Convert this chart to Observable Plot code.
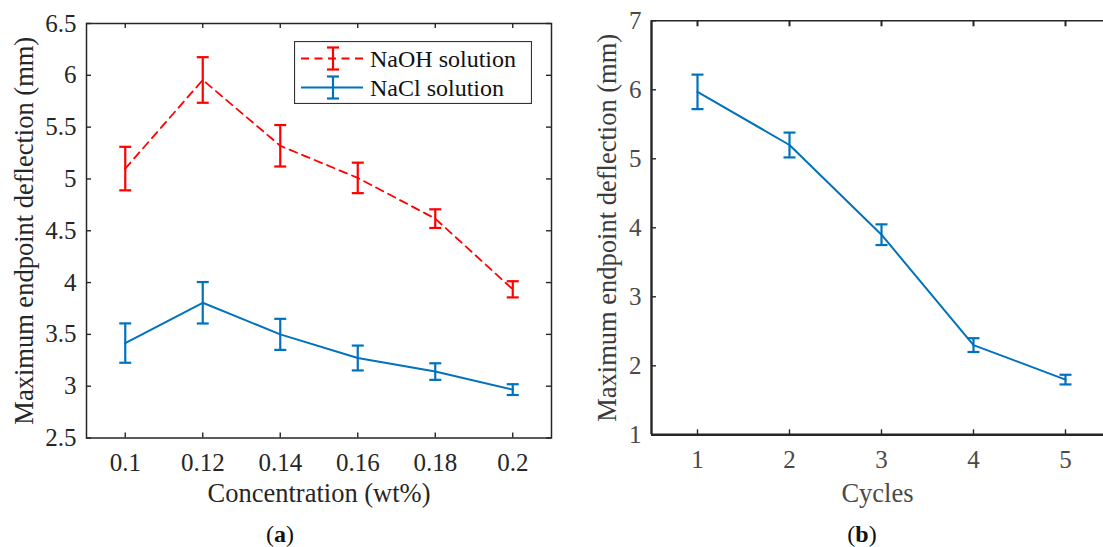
<!DOCTYPE html>
<html>
<head>
<meta charset="utf-8">
<script src="https://cdn.jsdelivr.net/npm/d3@7"></script>
<script src="https://cdn.jsdelivr.net/npm/@observablehq/plot@0.6"></script>
<style>
  html, body { margin: 0; padding: 0; background: #fff; width: 1103px; height: 547px; overflow: hidden; }
  .abs { position: absolute; }
  .cap { font-family: "Liberation Serif", serif; font-size: 24px; color: #111; text-align: center; line-height: 26px; }
</style>
</head>
<body>
<div id="panelA" class="abs" style="left:0;top:0;"></div>
<div id="panelB" class="abs" style="left:560px;top:0;"></div>
<div id="legendA" class="abs" style="left:294px;top:41px;"></div>
<div class="abs cap" style="left:230px;top:521px;width:100px;">(<b>a</b>)</div>
<div class="abs cap" style="left:812px;top:521px;width:100px;">(<b>b</b>)</div>
<script>
// ---------- data ----------
const concentration = [0.10, 0.12, 0.14, 0.16, 0.18, 0.20];
const naohMean = [5.10, 5.955, 5.32, 5.01, 4.617, 3.935];
const naohErr  = [0.21, 0.22, 0.20, 0.147, 0.09, 0.078];
const naclMean = [3.416, 3.805, 3.50, 3.272, 3.141, 2.967];
const naclErr  = [0.19, 0.20, 0.15, 0.12, 0.08, 0.052];

const cycles = [1, 2, 3, 4, 5];
const cycleMean = [5.97, 5.20, 3.90, 2.30, 1.80];
const cycleErr  = [0.25, 0.18, 0.15, 0.10, 0.07];

const xTicksA = [0.1, 0.12, 0.14, 0.16, 0.18, 0.2];
const yTicksA = [2.5, 3, 3.5, 4, 4.5, 5, 5.5, 6, 6.5];
const xTicksB = [1, 2, 3, 4, 5];
const yTicksB = [1, 2, 3, 4, 5, 6, 7];

const seriesNames = ["NaOH solution", "NaCl solution"];
const RED = "#ff0000", BLUE = "#0072bd";

const rows = (xs, means, errs) => xs.map((x, i) => ({x, y: means[i], lo: means[i] - errs[i], hi: means[i] + errs[i]}));
const naoh = rows(concentration, naohMean, naohErr);
const nacl = rows(concentration, naclMean, naclErr);
const cyc = rows(cycles, cycleMean, cycleErr);

const capSymbol = { draw(ctx, size) { const w = Math.sqrt(size / Math.PI); ctx.moveTo(-w, 0); ctx.lineTo(w, 0); } };

function errorMarks(data, color) {
  return [
    Plot.ruleX(data, {x: "x", y1: "lo", y2: "hi", stroke: color, strokeWidth: 2.2}),
    Plot.dot(data, {x: "x", y: "hi", symbol: capSymbol, r: 6, stroke: color, strokeWidth: 2.2, fill: "none"}),
    Plot.dot(data, {x: "x", y: "lo", symbol: capSymbol, r: 6, stroke: color, strokeWidth: 2.2, fill: "none"})
  ];
}

const FONT = '"Liberation Serif", "Times New Roman", serif';
const TICK_FS = 25;

function tickLabelsX(ticks, color, dy) {
  return Plot.text(ticks, {x: d => d, text: d => String(d), frameAnchor: "bottom", lineAnchor: "middle", dy, fontSize: TICK_FS, fontFamily: FONT, fill: color});
}
function tickLabelsY(ticks, color) {
  return Plot.text(ticks, {y: d => d, text: d => String(d), frameAnchor: "left", textAnchor: "end", lineAnchor: "middle", dx: -10, fontSize: TICK_FS, fontFamily: FONT, fill: color});
}

// ---------- panel (a) ----------
const A = {width: 560, height: 500, ml: 86, mr: 9, mt: 23, mb: 62.5};
const plotHA = A.height - A.mt - A.mb;
const plotWA = A.width - A.ml - A.mr;
const axisColA = "#262626";
const plotA = Plot.plot({
  width: A.width, height: A.height,
  marginLeft: A.ml, marginRight: A.mr, marginTop: A.mt, marginBottom: A.mb,
  x: {domain: [0.09, 0.21], axis: null},
  y: {domain: [2.5, 6.5], axis: null},
  style: {fontFamily: FONT, background: "transparent", color: axisColA, overflow: "visible"},
  marks: [
    Plot.line(naoh, {x: "x", y: "y", stroke: RED, strokeWidth: 1.8, strokeDasharray: "8,5.5"}),
    ...errorMarks(naoh, RED),
    Plot.line(nacl, {x: "x", y: "y", stroke: BLUE, strokeWidth: 2}),
    ...errorMarks(nacl, BLUE),
    Plot.frame({stroke: axisColA, strokeWidth: 1.5}),
    Plot.tickX(xTicksA, {x: d => d, insetTop: plotHA - 5, stroke: axisColA, strokeWidth: 1.4}),
    Plot.tickX(xTicksA, {x: d => d, insetBottom: plotHA - 5, stroke: axisColA, strokeWidth: 1.4}),
    Plot.tickY(yTicksA, {y: d => d, insetRight: plotWA - 5, stroke: axisColA, strokeWidth: 1.4}),
    Plot.tickY(yTicksA, {y: d => d, insetLeft: plotWA - 5, stroke: axisColA, strokeWidth: 1.4}),
    tickLabelsX(xTicksA, axisColA, 25),
    tickLabelsY(yTicksA, axisColA),
    Plot.text(["Concentration (wt%)"], {frameAnchor: "bottom", lineAnchor: "middle", textAnchor: "middle", dy: 56, fontSize: 26.5, fontFamily: FONT, fill: axisColA}),
    Plot.text(["Maximum endpoint deflection (mm)"], {frameAnchor: "left", textAnchor: "middle", lineAnchor: "middle", dx: -62, rotate: -90, fontSize: 26.5, fontFamily: FONT, fill: axisColA})
  ]
});
document.getElementById("panelA").appendChild(plotA);

// ---------- panel (b) ----------
const B = {width: 543, height: 500, ml: 91, mr: 0, mt: 20.3, mb: 65.7};
const plotHB = B.height - B.mt - B.mb;
const axisColB = "#262626";
const textColB = "#4a4a4a";
const plotB = Plot.plot({
  width: B.width, height: B.height,
  marginLeft: B.ml, marginRight: B.mr, marginTop: B.mt, marginBottom: B.mb,
  x: {domain: [0.5, 5.5], range: [B.ml, B.ml + 460], axis: null},
  y: {domain: [1, 7], axis: null},
  style: {fontFamily: FONT, background: "transparent", color: textColB, overflow: "visible"},
  marks: [
    Plot.line(cyc, {x: "x", y: "y", stroke: BLUE, strokeWidth: 2}),
    ...errorMarks(cyc, BLUE),
    Plot.ruleY([7], {stroke: axisColB, strokeWidth: 1.4}),
    Plot.ruleY([1], {stroke: axisColB, strokeWidth: 2.4}),
    Plot.ruleX([0.5], {stroke: axisColB, strokeWidth: 2.4}),
    Plot.tickX(xTicksB, {x: d => d, insetTop: plotHB - 5, stroke: axisColB, strokeWidth: 1.4}),
    Plot.tickX(xTicksB, {x: d => d, insetBottom: plotHB - 6, stroke: axisColB, strokeWidth: 2}),
    Plot.tickY(yTicksB, {y: d => d, insetRight: B.width - B.ml - 5, stroke: axisColB, strokeWidth: 1.4}),
    tickLabelsX(xTicksB, textColB, 25),
    tickLabelsY(yTicksB, textColB),
    Plot.text(["Cycles"], {frameAnchor: "bottom", lineAnchor: "middle", textAnchor: "middle", dy: 59, fontSize: 26.5, fontFamily: FONT, fill: textColB}),
    Plot.text(["Maximum endpoint deflection (mm)"], {frameAnchor: "left", textAnchor: "middle", lineAnchor: "middle", dx: -44, rotate: -90, fontSize: 26.5, fontFamily: FONT, fill: "#3a3a3a"})
  ]
});
document.getElementById("panelB").appendChild(plotB);

// ---------- legend for (a) ----------
(function () {
  const w = 238, h = 63;
  const svg = d3.create("svg").attr("width", w).attr("height", h).style("display", "block");
  svg.append("rect").attr("x", 0.5).attr("y", 0.5).attr("width", w - 1).attr("height", h - 1)
    .attr("fill", "#fff").attr("stroke", "#333").attr("stroke-width", 1.2);
  const items = [
    {name: seriesNames[0], color: RED, dash: "8,5.5", cy: 17.5},
    {name: seriesNames[1], color: BLUE, dash: null, cy: 46.5}
  ];
  for (const it of items) {
    const g = svg.append("g");
    g.append("line").attr("x1", 7).attr("x2", 69).attr("y1", it.cy).attr("y2", it.cy)
      .attr("stroke", it.color).attr("stroke-width", it.dash ? 1.8 : 2).attr("stroke-dasharray", it.dash);
    g.append("line").attr("x1", 39).attr("x2", 39).attr("y1", it.cy - 11).attr("y2", it.cy + 11)
      .attr("stroke", it.color).attr("stroke-width", 2.2);
    for (const dy of [-11, 11]) {
      g.append("line").attr("x1", 33).attr("x2", 45).attr("y1", it.cy + dy).attr("y2", it.cy + dy)
        .attr("stroke", it.color).attr("stroke-width", 2.2);
    }
    g.append("text").attr("x", 76).attr("y", it.cy).attr("dy", "0.35em")
      .style("font-family", FONT).attr("font-size", 24).attr("fill", "#111").text(it.name);
  }
  document.getElementById("legendA").appendChild(svg.node());
})();
</script>
</body>
</html>
